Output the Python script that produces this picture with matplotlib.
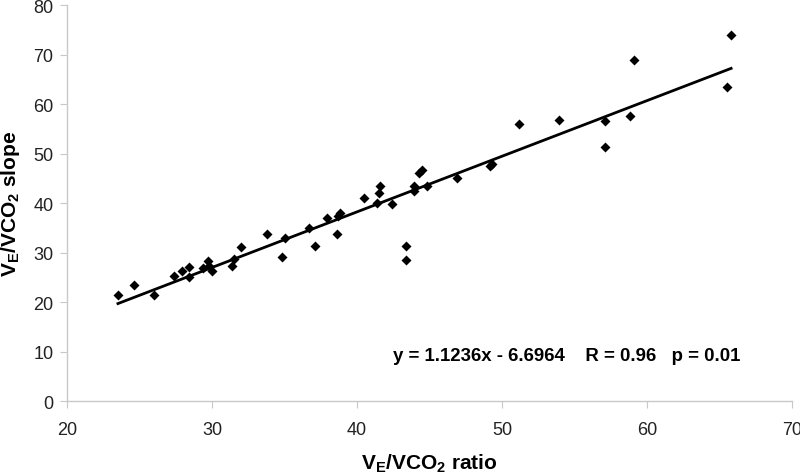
import matplotlib
matplotlib.use("Agg")
import matplotlib.pyplot as plt
import numpy as np

plt.rcParams["font.family"] = ["Liberation Sans", "DejaVu Sans"]
plt.rcParams["mathtext.fontset"] = "custom"
plt.rcParams["mathtext.rm"] = "Liberation Sans"
plt.rcParams["mathtext.bf"] = "Liberation Sans:bold"

# VE/VCO2 ratio vs VE/VCO2 slope
ratio = [23.5, 24.6, 26.0, 27.4, 27.9, 28.4, 28.4, 29.4, 29.7, 29.8, 30.0,
         31.4, 31.5, 32.0, 33.8, 34.8, 35.0, 36.7, 37.1, 37.9, 38.6, 38.7,
         38.8, 40.5, 41.4, 41.5, 41.6, 42.4, 43.4, 43.4, 43.9, 43.9, 44.3,
         44.5, 44.8, 46.9, 49.2, 49.3, 51.2, 53.9, 57.1, 57.1, 58.8, 59.1,
         65.5, 65.8]
slope = [21.4, 23.5, 21.5, 25.3, 26.3, 27.1, 25.1, 26.9, 28.3, 27.4, 26.3,
         27.3, 28.8, 31.2, 33.8, 29.2, 33.0, 35.0, 31.4, 36.9, 33.8, 37.5,
         38.0, 41.0, 40.0, 42.1, 43.5, 39.8, 31.4, 28.5, 43.4, 42.4, 46.1,
         46.7, 43.5, 45.1, 47.6, 47.9, 56.0, 56.8, 56.5, 51.4, 57.6, 69.0,
         63.4, 74.0]
fit_a, fit_b = 1.1236, -6.6964

fig = plt.figure(figsize=(8, 4.77), dpi=100)
ax = fig.add_axes([0.084, 0.157, 0.906, 0.83])

ax.scatter(ratio, slope, marker="D", s=26, color="black", zorder=3, linewidths=0)
xs = np.array([min(ratio), max(ratio)])
ax.plot(xs, fit_a * xs + fit_b, color="black", lw=2, zorder=2)

ax.set_xlim(20, 70)
ax.set_ylim(0, 80)
ax.set_xticks(range(20, 71, 10))
ax.set_yticks(range(0, 81, 10))
for side in ["top", "right"]:
    ax.spines[side].set_visible(False)
for side in ["left", "bottom"]:
    ax.spines[side].set_color("#c8c8c8")
    ax.spines[side].set_linewidth(1)
ax.tick_params(direction="out", length=5, color="#c8c8c8", labelsize=13,
               labelcolor="#222222", pad=5)
ax.tick_params(axis="x", pad=9)

ax.set_xlabel(r"$\mathbf{V_E/VCO_2}$ ratio", fontsize=15, fontweight="bold", labelpad=10)
ax.set_ylabel(r"$\mathbf{V_E/VCO_2}$ slope", fontsize=15, fontweight="bold", labelpad=8)

ax.text(42.5, 9.2, "y = 1.1236x - 6.6964    R = 0.96   p = 0.01",
        fontsize=13.4, fontweight="bold", va="center", ha="left")

fig.savefig("out.png", dpi=100, facecolor="white")
